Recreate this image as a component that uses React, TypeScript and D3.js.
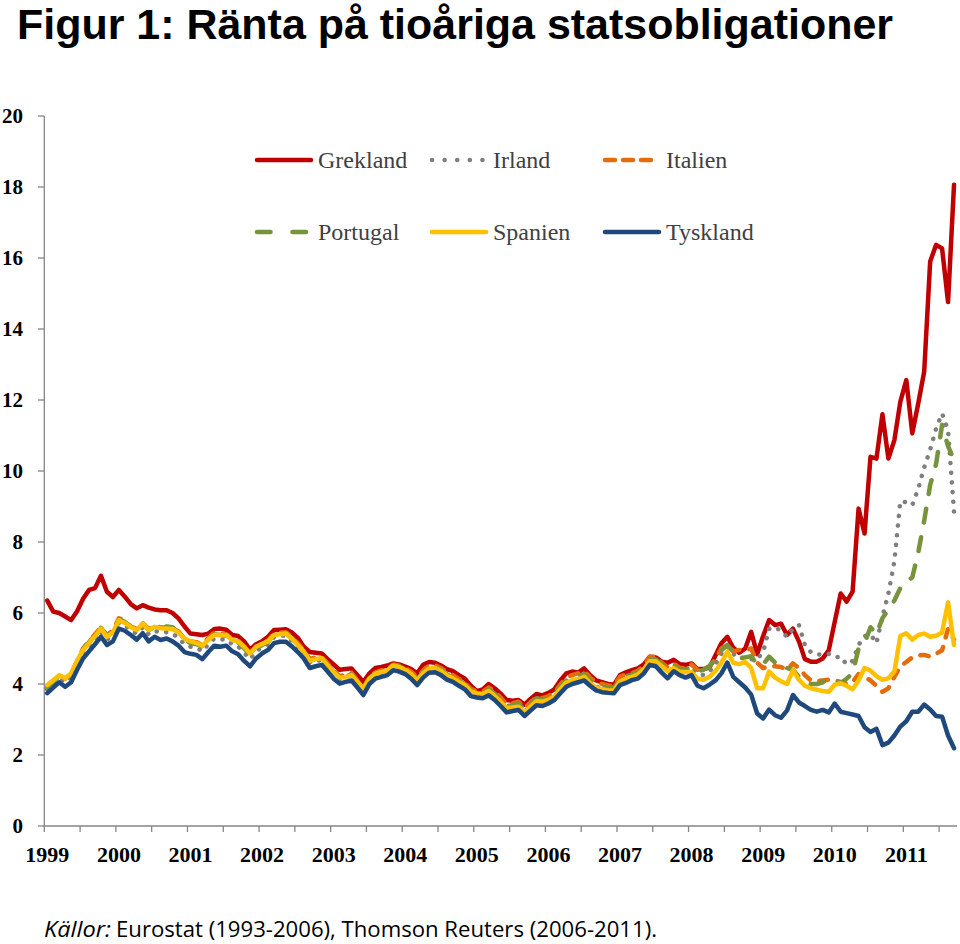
import React from "react";
import * as d3 from "d3";

// Monthly 10-year government bond yields, Jan 1999 – Sep 2011 (153 months)
const grekland = [
  6.35, 6.04, 6.0, 5.9, 5.8, 6.05, 6.4, 6.65, 6.7, 7.05, 6.6, 6.45,
  6.65, 6.46, 6.25, 6.13, 6.22, 6.15, 6.1, 6.08, 6.08, 6.0, 5.85, 5.62,
  5.42, 5.4, 5.38, 5.42, 5.55, 5.56, 5.53, 5.38, 5.35, 5.2, 4.96, 5.12,
  5.2, 5.33, 5.52, 5.53, 5.54, 5.45, 5.3, 5.05, 4.9, 4.88, 4.86, 4.7,
  4.55, 4.4, 4.42, 4.44, 4.25, 4.06, 4.3, 4.45, 4.48, 4.52, 4.58, 4.55,
  4.49, 4.42, 4.3, 4.54, 4.62, 4.6, 4.52, 4.42, 4.36, 4.25, 4.15, 3.95,
  3.8, 3.85, 4.0, 3.88, 3.73, 3.55, 3.53, 3.55, 3.42, 3.58, 3.72, 3.68,
  3.75, 3.85, 4.1, 4.3, 4.35, 4.32, 4.44, 4.25, 4.1, 4.05, 4.0, 3.98,
  4.25, 4.33, 4.39, 4.44, 4.55, 4.77, 4.75, 4.63, 4.6, 4.68, 4.56, 4.54,
  4.58, 4.42, 4.42, 4.46, 4.8, 5.15, 5.33, 5.02, 4.88, 5.0, 5.47, 4.84,
  5.35, 5.8, 5.66, 5.7, 5.38, 5.56, 5.2, 4.7, 4.63, 4.63, 4.72, 4.95,
  5.75, 6.55, 6.32, 6.6, 8.94, 8.24, 10.4, 10.35, 11.6, 10.35, 10.87, 11.95,
  12.56, 11.06, 11.9, 12.8, 15.9, 16.37, 16.27, 14.76, 18.06,
];

const irland = [
  3.85, 4.02, 4.15, 4.05, 4.2, 4.55, 4.88, 5.08, 5.28, 5.48, 5.25, 5.38,
  5.72, 5.66, 5.52, 5.42, 5.6, 5.4, 5.5, 5.45, 5.46, 5.42, 5.3, 5.12,
  5.05, 5.02, 4.92, 5.12, 5.28, 5.25, 5.26, 5.12, 5.06, 4.88, 4.7, 4.92,
  5.04, 5.12, 5.32, 5.36, 5.36, 5.22, 5.06, 4.86, 4.6, 4.64, 4.68, 4.5,
  4.3, 4.14, 4.19, 4.24, 4.03, 3.82, 4.13, 4.27, 4.32, 4.37, 4.5, 4.46,
  4.38, 4.26, 4.08, 4.28, 4.42, 4.43, 4.35, 4.22, 4.15, 4.05, 3.95, 3.77,
  3.72, 3.7, 3.78, 3.66, 3.5, 3.32, 3.35, 3.38, 3.22, 3.38, 3.52, 3.5,
  3.56, 3.66, 3.86, 4.04, 4.1, 4.15, 4.2, 4.04, 3.92, 3.87, 3.84, 3.84,
  4.08, 4.15, 4.2, 4.26, 4.42, 4.64, 4.62, 4.46, 4.32, 4.47, 4.35, 4.38,
  4.42, 4.3, 4.25, 4.35, 4.55, 4.85, 5.05, 4.85, 4.72, 4.75, 4.7, 4.7,
  4.9, 5.55, 5.6, 5.5, 5.33, 5.56, 5.66, 5.1, 4.9, 4.82, 4.85, 4.85,
  4.75, 4.77, 4.55, 4.65, 5.1, 5.35, 5.4, 5.15, 5.9, 6.55, 7.45, 9.15,
  9.12, 9.04, 9.5, 10.1, 10.6, 11.2, 11.62, 11.15, 8.85,
];

const italien = [
  3.95, 4.1, 4.25, 4.15, 4.3, 4.65, 5.0, 5.2, 5.4, 5.6, 5.38, 5.5,
  5.85, 5.78, 5.62, 5.55, 5.72, 5.55, 5.62, 5.6, 5.58, 5.56, 5.48, 5.28,
  5.2, 5.18, 5.1, 5.3, 5.45, 5.42, 5.4, 5.26, 5.22, 5.05, 4.86, 5.05,
  5.15, 5.22, 5.42, 5.45, 5.46, 5.32, 5.15, 4.95, 4.7, 4.75, 4.76, 4.58,
  4.38, 4.22, 4.26, 4.32, 4.1, 3.9, 4.2, 4.33, 4.38, 4.42, 4.55, 4.52,
  4.45, 4.35, 4.18, 4.38, 4.52, 4.53, 4.45, 4.32, 4.25, 4.14, 4.04, 3.86,
  3.8, 3.78, 3.9, 3.8, 3.62, 3.42, 3.45, 3.5, 3.32, 3.48, 3.64, 3.6,
  3.66, 3.76, 3.98, 4.18, 4.25, 4.3, 4.36, 4.18, 4.04, 4.0, 3.96, 3.95,
  4.2, 4.28, 4.3, 4.37, 4.52, 4.76, 4.78, 4.6, 4.46, 4.58, 4.45, 4.45,
  4.55, 4.4, 4.42, 4.5, 4.7, 5.0, 5.1, 4.92, 4.96, 4.95, 5.0, 4.6,
  4.45, 4.5, 4.5, 4.48, 4.4, 4.58, 4.45, 4.25, 4.1, 4.08, 4.1, 4.12,
  4.1, 4.06, 4.0, 4.05, 4.28, 4.2, 4.1, 3.95, 3.78, 3.88, 4.2, 4.5,
  4.62, 4.75, 4.8, 4.82, 4.77, 4.85, 4.95, 5.55, 5.25,
];

const portugal = [
  3.9, 4.08, 4.22, 4.12, 4.28, 4.62, 4.98, 5.18, 5.38, 5.58, 5.36, 5.48,
  5.82, 5.75, 5.6, 5.52, 5.7, 5.52, 5.6, 5.58, 5.62, 5.6, 5.45, 5.25,
  5.15, 5.12, 5.05, 5.25, 5.4, 5.38, 5.36, 5.22, 5.18, 5.0, 4.82, 5.0,
  5.1, 5.18, 5.38, 5.4, 5.42, 5.28, 5.1, 4.9, 4.65, 4.7, 4.72, 4.54,
  4.34, 4.18, 4.22, 4.27, 4.06, 3.86, 4.17, 4.3, 4.35, 4.4, 4.53, 4.5,
  4.42, 4.3, 4.12, 4.33, 4.47, 4.48, 4.4, 4.27, 4.2, 4.1, 4.0, 3.82,
  3.76, 3.75, 3.84, 3.72, 3.56, 3.38, 3.4, 3.44, 3.28, 3.45, 3.6, 3.56,
  3.62, 3.72, 3.92, 4.1, 4.18, 4.22, 4.28, 4.1, 3.98, 3.94, 3.9, 3.9,
  4.15, 4.23, 4.26, 4.32, 4.47, 4.7, 4.7, 4.55, 4.42, 4.52, 4.4, 4.42,
  4.45, 4.35, 4.4, 4.5, 4.7, 4.95, 5.1, 4.9, 4.72, 4.75, 4.78, 4.55,
  4.55, 4.77, 4.6, 4.45, 4.45, 4.4, 4.2, 4.08, 4.0, 4.0, 4.05, 4.15,
  4.1, 4.02, 4.15, 4.3, 5.0, 5.15, 5.6, 5.4, 5.85, 6.1, 6.35, 6.7,
  6.88, 7.0, 7.7, 8.6, 9.6, 10.2, 11.3, 10.7, 10.3,
];

const spanien = [
  3.97, 4.1, 4.25, 4.16, 4.3, 4.65, 4.96, 5.15, 5.35, 5.56, 5.33, 5.45,
  5.8, 5.72, 5.6, 5.52, 5.7, 5.52, 5.61, 5.57, 5.56, 5.55, 5.45, 5.28,
  5.2, 5.15, 5.08, 5.25, 5.38, 5.38, 5.38, 5.24, 5.2, 5.05, 4.86, 5.05,
  5.13, 5.2, 5.38, 5.4, 5.42, 5.28, 5.1, 4.92, 4.65, 4.7, 4.73, 4.52,
  4.33, 4.18, 4.2, 4.25, 4.06, 3.86, 4.15, 4.29, 4.34, 4.38, 4.52, 4.48,
  4.4, 4.28, 4.1, 4.3, 4.44, 4.45, 4.37, 4.24, 4.16, 4.06, 3.97, 3.79,
  3.74, 3.72, 3.8, 3.66, 3.5, 3.32, 3.34, 3.36, 3.2, 3.36, 3.52, 3.5,
  3.55, 3.65, 3.86, 4.04, 4.1, 4.14, 4.2, 4.02, 3.9, 3.85, 3.82, 3.82,
  4.07, 4.15, 4.2, 4.27, 4.42, 4.64, 4.64, 4.5, 4.36, 4.45, 4.34, 4.34,
  4.33, 4.15, 4.12, 4.2, 4.36, 4.6, 4.9, 4.6, 4.56, 4.62, 4.45, 3.88,
  3.88, 4.35, 4.18, 4.08, 4.0, 4.39, 4.12, 3.95, 3.88, 3.84, 3.8, 3.78,
  3.98, 4.02, 3.95, 3.85, 4.1, 4.45, 4.38, 4.22, 4.12, 4.16, 4.35, 5.35,
  5.43, 5.25, 5.38, 5.42, 5.33, 5.36, 5.45, 6.3, 5.1,
];

const tyskland = [
  3.74, 3.9, 4.05, 3.92, 4.05, 4.4, 4.72, 4.92, 5.12, 5.33, 5.1, 5.2,
  5.56, 5.5, 5.38, 5.25, 5.43, 5.2, 5.33, 5.24, 5.28, 5.2, 5.08, 4.9,
  4.85, 4.82, 4.7, 4.9, 5.08, 5.05, 5.08, 4.92, 4.84, 4.65, 4.5, 4.72,
  4.86, 4.96, 5.15, 5.19, 5.19, 5.06, 4.9, 4.72, 4.45, 4.5, 4.54, 4.35,
  4.15, 4.01, 4.06, 4.1, 3.9, 3.69, 4.0, 4.15, 4.2, 4.25, 4.39, 4.35,
  4.28, 4.15, 3.97, 4.18, 4.32, 4.33, 4.25, 4.12, 4.06, 3.95, 3.85, 3.66,
  3.62, 3.6, 3.68, 3.55, 3.38, 3.2, 3.24, 3.27, 3.1, 3.25, 3.4, 3.38,
  3.45, 3.55, 3.74, 3.92, 4.0, 4.05, 4.1, 3.95, 3.82, 3.77, 3.75, 3.74,
  3.97, 4.03, 4.11, 4.15, 4.3, 4.54, 4.5, 4.32, 4.16, 4.36, 4.25, 4.18,
  4.25, 3.95, 3.88, 3.98, 4.1, 4.3, 4.6, 4.2, 4.05, 3.9, 3.7, 3.17,
  3.03, 3.28, 3.12, 3.05, 3.25, 3.69, 3.48, 3.38, 3.27, 3.22, 3.27, 3.2,
  3.45, 3.22, 3.18, 3.14, 3.1, 2.78, 2.65, 2.74, 2.28, 2.35, 2.55, 2.8,
  2.95, 3.22, 3.22, 3.42, 3.28, 3.1, 3.08, 2.55, 2.19,
];

const seriesNames = ["Grekland", "Irland", "Italien", "Portugal", "Spanien", "Tyskland"];
const seriesData = [grekland, irland, italien, portugal, spanien, tyskland];
const yearLabels = ["1999", "2000", "2001", "2002", "2003", "2004", "2005", "2006", "2007", "2008", "2009", "2010", "2011"];
const yTicks = [0, 2, 4, 6, 8, 10, 12, 14, 16, 18, 20];

const colors = ["#C00000", "#7F7F7F", "#E46C0A", "#77933C", "#FFC000", "#1F497D"];
const dashes = [null, "0.1 9.6", "8.5 10", "14 15", null, null];
const legendDashes = [null, "0.1 12.5", "10 8", "13.5 22", null, null];

const SERIF = "'Liberation Serif', 'DejaVu Serif', serif";
const TITLE_FONT = "'Liberation Sans', Arial, sans-serif";
const SANS = "'Open Sans', 'Noto Sans', sans-serif";

export default function App() {
  const x = d3.scaleLinear().domain([0, 153]).range([44.3, 957]);
  const y = d3.scaleLinear().domain([0, 20]).range([826, 116]);
  const line = d3
    .line<number>()
    .x((_, i) => x(i + 0.5))
    .y((d) => y(d));

  const halfYearTicks = d3.range(0, 153, 6);
  const axisColor = "#868686";

  const legendPos = [
    { sx: 257, ty: 160 },
    { sx: 432, ty: 160 },
    { sx: 605, ty: 160 },
    { sx: 257, ty: 232 },
    { sx: 432, ty: 232 },
    { sx: 605, ty: 232 },
  ];

  return (
    <svg
      width={960}
      height={944}
      viewBox="0 0 960 944"
      style={{ position: "absolute", left: 0, top: 0, display: "block", background: "#fff" }}
    >
      <rect x={0} y={0} width={960} height={944} fill="#fff" />
      {/* Title */}
      <text
        x={17}
        y={39}
        fontFamily={TITLE_FONT}
        fontWeight={700}
        fontSize={43}
        textLength={876}
        lengthAdjust="spacingAndGlyphs"
        fill="#000"
      >
        Figur 1: Ränta på tioåriga statsobligationer
      </text>

      {/* Y axis */}
      <line x1={44.3} x2={44.3} y1={y(20)} y2={y(0)} stroke={axisColor} strokeWidth={1.3} />
      {yTicks.map((t) => (
        <g key={"y" + t}>
          <line x1={38} x2={44.3} y1={y(t)} y2={y(t)} stroke={axisColor} strokeWidth={1.3} />
          <text
            x={23}
            y={y(t) + 7}
            textAnchor="end"
            fontFamily={SERIF}
            fontWeight={700}
            fontSize={21}
            fill="#000"
          >
            {t}
          </text>
        </g>
      ))}

      {/* X axis */}
      <line x1={44.3} x2={957} y1={y(0)} y2={y(0)} stroke={axisColor} strokeWidth={1.3} />
      {halfYearTicks.map((m) => (
        <line key={"xt" + m} x1={x(m)} x2={x(m)} y1={y(0)} y2={y(0) + 6} stroke={axisColor} strokeWidth={1.3} />
      ))}
      {yearLabels.map((lab, i) => (
        <text
          key={lab}
          x={x(i * 12) + 3}
          y={862}
          textAnchor="middle"
          fontFamily={SERIF}
          fontWeight={700}
          fontSize={22}
          fill="#000"
        >
          {lab}
        </text>
      ))}

      {/* Series */}
      {seriesData.map((d, i) => (
        <path
          key={seriesNames[i]}
          d={line(d) || ""}
          fill="none"
          stroke={colors[i]}
          strokeWidth={4.5}
          strokeLinejoin="round"
          strokeLinecap="round"
          strokeDasharray={dashes[i] || undefined}
        />
      ))}

      {/* Legend */}
      {seriesNames.map((name, i) => {
        const p = legendPos[i];
        return (
          <g key={"lg" + name}>
            <line
              x1={p.sx}
              x2={p.sx + 54}
              y1={p.ty}
              y2={p.ty}
              stroke={colors[i]}
              strokeWidth={4.5}
              strokeLinecap="round"
              strokeDasharray={legendDashes[i] || undefined}
            />
            <text x={p.sx + 61} y={p.ty + 8} fontFamily={SERIF} fontSize={24} fill="#404040">
              {name}
            </text>
          </g>
        );
      })}

      {/* Source */}
      <text x={44} y={937} fontFamily={SANS} fontStyle="italic" fontSize={21} textLength={67} lengthAdjust="spacingAndGlyphs" fill="#000">
        Källor:
      </text>
      <text x={116} y={937} fontFamily={SANS} fontSize={21} textLength={541} lengthAdjust="spacingAndGlyphs" fill="#000">
        Eurostat (1993-2006), Thomson Reuters (2006-2011).
      </text>
    </svg>
  );
}
